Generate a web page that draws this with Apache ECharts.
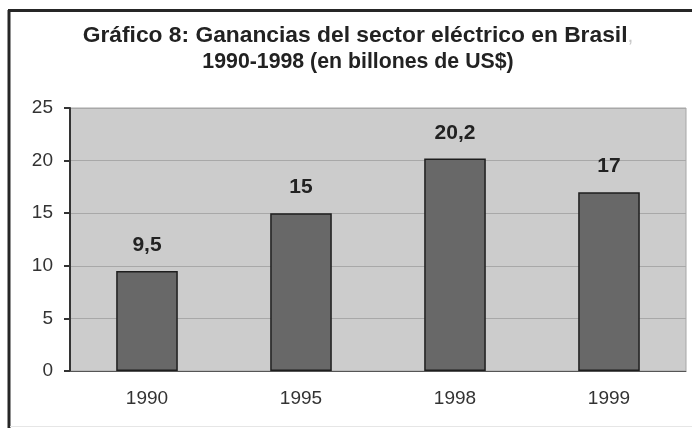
<!DOCTYPE html>
<html>
<head>
<meta charset="utf-8">
<script src="https://cdn.jsdelivr.net/npm/echarts@6/dist/echarts.min.js"></script>
<style>
  html, body { margin: 0; padding: 0; background: #fff; }
  #chart { width: 692px; height: 428px; }
</style>
</head>
<body>
<div id="chart"></div>
<script>
const categories = ['1990', '1995', '1998', '1999'];
const values = [9.5, 15, 20.2, 17];
const yTicks = { min: 0, max: 25, interval: 5 };
const titleLine1 = 'Gráfico 8: Ganancias del sector eléctrico en Brasil';
const titleLine2 = '1990-1998 (en billones de US$)';

const FONT = '"Liberation Sans", Arial, sans-serif';
const chart = echarts.init(document.getElementById('chart'), null, { renderer: 'canvas' });

chart.setOption({
  animation: false,
  backgroundColor: '#ffffff',
  title: {
    text: '{a|' + titleLine1 + '}{c|,}\n{b|' + titleLine2 + '}',
    left: 358,
    top: 23,
    padding: 0,
    textAlign: 'center',
    textStyle: {
      rich: {
        a: { fontFamily: FONT, fontSize: 22.8, fontWeight: 'bold', color: '#222', lineHeight: 26 },
        b: { fontFamily: FONT, fontSize: 21.3, fontWeight: 'bold', color: '#222', lineHeight: 26 },
        c: { fontFamily: FONT, fontSize: 21, fontWeight: 'normal', color: '#c8c8c8', lineHeight: 26 }
      }
    }
  },
  graphic: [
    { type: 'line', shape: { x1: 9, y1: 10, x2: 9, y2: 428 }, style: { stroke: '#262626', lineWidth: 3 } },
    { type: 'line', shape: { x1: 8, y1: 10.5, x2: 692, y2: 10.5 }, style: { stroke: '#262626', lineWidth: 3 } },
    { type: 'line', shape: { x1: 10, y1: 426.5, x2: 692, y2: 426.5 }, style: { stroke: '#e6e6e6', lineWidth: 1 } }
  ],
  grid: {
    left: 70, right: 6, top: 108, bottom: 57,
    show: true,
    backgroundColor: '#cccccc',
    borderColor: '#a6a6a6',
    borderWidth: 1
  },
  xAxis: {
    type: 'category',
    data: categories,
    axisLine: { show: true, lineStyle: { color: '#555', width: 1 } },
    axisTick: { show: false },
    axisLabel: { fontFamily: FONT, fontSize: 19, color: '#333', margin: 18 }
  },
  yAxis: {
    type: 'value',
    min: yTicks.min, max: yTicks.max, interval: yTicks.interval,
    axisLine: { show: true, lineStyle: { color: '#333', width: 2 } },
    axisTick: { show: true, length: 6, lineStyle: { color: '#333', width: 2 } },
    axisLabel: { fontFamily: FONT, fontSize: 19, color: '#333', margin: 17 },
    splitLine: { show: true, lineStyle: { color: '#a8a8a8', width: 1 } }
  },
  series: [{
    type: 'bar',
    data: values,
    barWidth: '40%',
    itemStyle: { color: '#686868', borderColor: '#1e1e1e', borderWidth: 1.5 },
    label: {
      show: true,
      position: 'top',
      distance: 15,
      fontFamily: FONT,
      fontSize: 21,
      fontWeight: 'bold',
      color: '#222',
      formatter: p => String(p.value).replace('.', ',')
    }
  }]
});
</script>
</body>
</html>
